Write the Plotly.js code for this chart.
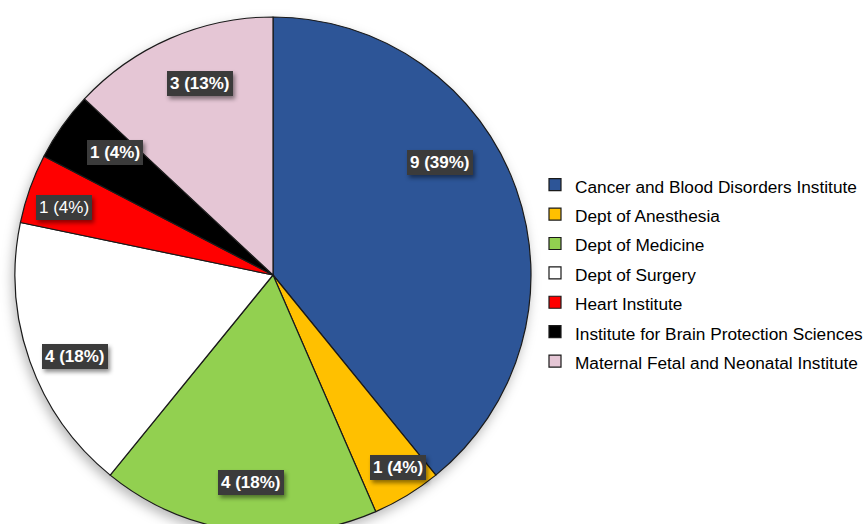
<!DOCTYPE html>
<html>
<head>
<meta charset="utf-8">
<script src="https://cdn.plot.ly/plotly-3.0.1.min.js"></script>
<style>
  html, body { margin: 0; padding: 0; overflow: hidden; background: #ffffff; }
  #chart { width: 864px; height: 550px; }
  .pielayer { filter: drop-shadow(-2px 5px 6px rgba(0,0,0,0.28)); }
  .annotation rect.bg { filter: drop-shadow(2px 3px 2px rgba(0,0,0,0.45)); }
</style>
</head>
<body>
<div id="chart"></div>
<script>
// ---- data ----
const categories = [
  "Cancer and Blood Disorders Institute",
  "Dept of Anesthesia",
  "Dept of Medicine",
  "Dept of Surgery",
  "Heart Institute",
  "Institute for Brain Protection Sciences",
  "Maternal Fetal and Neonatal Institute"
];
const counts = [9, 1, 4, 4, 1, 1, 3];
const percentLabels = [39, 4, 18, 18, 4, 4, 13];

// ---- styles ----
const colors = ["#2D5597", "#FFC000", "#92D050", "#FFFFFF", "#FF0000", "#000000", "#E5C6D5"];
const labelBold = [true, true, true, true, false, true, true];
// label placement (fraction of radius, angle nudge in degrees)
const labelRadius = [0.78, 0.89, 0.81, 0.83, 0.85, 0.775, 0.795];
const labelAngleNudge = [-14.4, -1.7, -1.8, -2.9, -1.6, 2.5, 2.5];

const W = 864, H = 550;
const dom = { x: [15 / W, 531 / W], y: [17 / H, 533 / H] };
const font = "Liberation Sans, Arial, Helvetica, sans-serif";

// pie geometry in paper units (derived from domain)
const cxPx = (dom.x[0] + dom.x[1]) / 2 * W;
const cyPx = H - (dom.y[0] + dom.y[1]) / 2 * H;
const Rpx = (dom.x[1] - dom.x[0]) * W / 2;
const total = counts.reduce((a, b) => a + b, 0);

const annotations = [];
let cum = 0;
counts.forEach((v, i) => {
  const midFrac = (cum + v / 2) / total;
  cum += v;
  const ang = (midFrac * 360 + labelAngleNudge[i]) * Math.PI / 180;
  const r = labelRadius[i] * Rpx;
  const px = cxPx + r * Math.sin(ang);
  const py = cyPx - r * Math.cos(ang);
  const t = counts[i] + " (" + percentLabels[i] + "%)";
  annotations.push({
    xref: "paper", yref: "paper",
    x: px / W, y: (H - py) / H,
    xanchor: "center", yanchor: "middle",
    showarrow: false,
    text: labelBold[i] ? "<b>" + t + "</b>" : t,
    font: { family: font, size: 17, color: "#ffffff" },
    bgcolor: "#3b3b3b",
    borderpad: 3,
    borderwidth: 0
  });
});

const trace = {
  type: "pie",
  labels: categories.map(c => '<span style="font-size:17.25px">' + c + '</span>'),
  values: counts,
  sort: false,
  direction: "clockwise",
  rotation: 0,
  textinfo: "none",
  hoverinfo: "none",
  marker: { colors: colors, line: { color: "#1a1a1a", width: 1.2 } },
  domain: dom
};

const layout = {
  width: W, height: H,
  margin: { l: 0, r: 0, t: 0, b: 0, pad: 0, autoexpand: false },
  paper_bgcolor: "#ffffff",
  plot_bgcolor: "#ffffff",
  showlegend: true,
  legend: {
    x: 535 / W, xanchor: "left",
    y: (H - 273) / H, yanchor: "middle",
    font: { family: font, size: 20.3, color: "#000000" },
    bgcolor: "rgba(0,0,0,0)",
    borderwidth: 0,
    traceorder: "normal"
  },
  annotations: annotations
};

Plotly.newPlot("chart", [trace], layout, { staticPlot: true, displayModeBar: false });
</script>
</body>
</html>
